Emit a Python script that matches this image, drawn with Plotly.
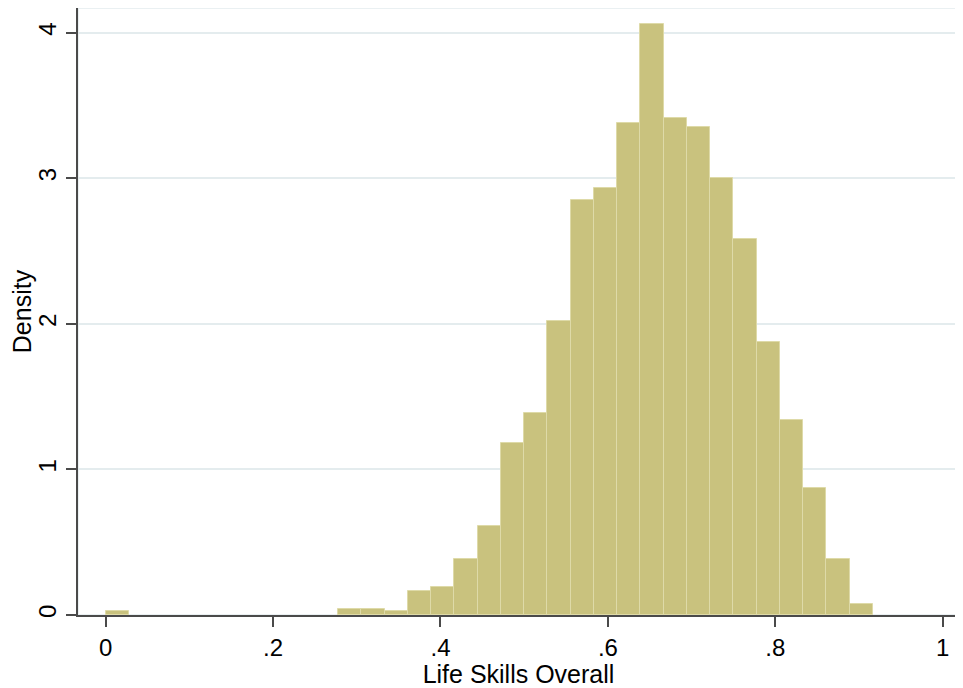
import plotly.graph_objects as go

# Histogram data (density per bin)
bin_start = 0.0
bin_width = 1 / 36
density = [
    0.027, 0.0, 0.0, 0.0, 0.0, 0.0, 0.0, 0.0, 0.0, 0.0,
    0.039, 0.039, 0.027, 0.165, 0.194, 0.383, 0.611, 1.179, 1.389, 2.019,
    2.848, 2.930, 3.380, 4.057, 3.415, 3.354, 3.003, 2.585, 1.875, 1.339,
    0.874, 0.383, 0.076,
]
x_ticks = [0, 0.2, 0.4, 0.6, 0.8, 1]
x_tick_labels = ["0", ".2", ".4", ".6", ".8", "1"]
y_ticks = [0, 1, 2, 3, 4]
y_tick_labels = ["0", "1", "2", "3", "4"]
x_title = "Life Skills Overall"
y_title = "Density"

centers = [bin_start + (i + 0.5) * bin_width for i in range(len(density))]
heights = [d if d > 0 else None for d in density]

FONT = "Liberation Sans, Arial, Helvetica, sans-serif"
AXIS = "#4a4a4a"
GRID = "#e4ecee"

fig = go.Figure()
fig.add_trace(go.Bar(
    x=centers, y=heights, width=bin_width,
    marker=dict(color="#c9c27e", line=dict(color="#dedaa8", width=1)),
    hoverinfo="x+y",
))

# page body adds an 8px offset, so the figure is 8px smaller than the window
fig.update_layout(
    width=955, height=680,
    margin=dict(l=70, r=4, t=0, b=73),
    paper_bgcolor="white", plot_bgcolor="white",
    showlegend=False, bargap=0,
    font=dict(family=FONT, size=24, color="black"),
    shapes=[dict(type="rect", xref="paper", yref="paper", x0=0, x1=1, y0=0, y1=1,
                 line=dict(color=GRID, width=1.5), layer="below")],
)
fig.update_xaxes(
    range=[-0.0331, 1.0195], tickvals=x_ticks, ticktext=x_tick_labels,
    showgrid=False, zeroline=False,
    showline=True, linecolor=AXIS, linewidth=2,
    ticks="outside", ticklen=10, tickwidth=1.5, tickcolor=AXIS,
    tickfont=dict(size=24),
    title=dict(text=x_title, font=dict(size=25), standoff=0),
    automargin=False,
)
fig.update_yaxes(
    range=[0, 4.169], tickvals=y_ticks, ticktext=y_tick_labels,
    tickangle=-90,
    showgrid=True, gridcolor=GRID, gridwidth=1.5, zeroline=False,
    showline=True, linecolor=AXIS, linewidth=2,
    ticks="outside", ticklen=10, tickwidth=1.5, tickcolor=AXIS,
    tickfont=dict(size=24),
    title=dict(text=y_title, font=dict(size=25), standoff=2),
    automargin=False,
)

fig.write_html("out.html")
